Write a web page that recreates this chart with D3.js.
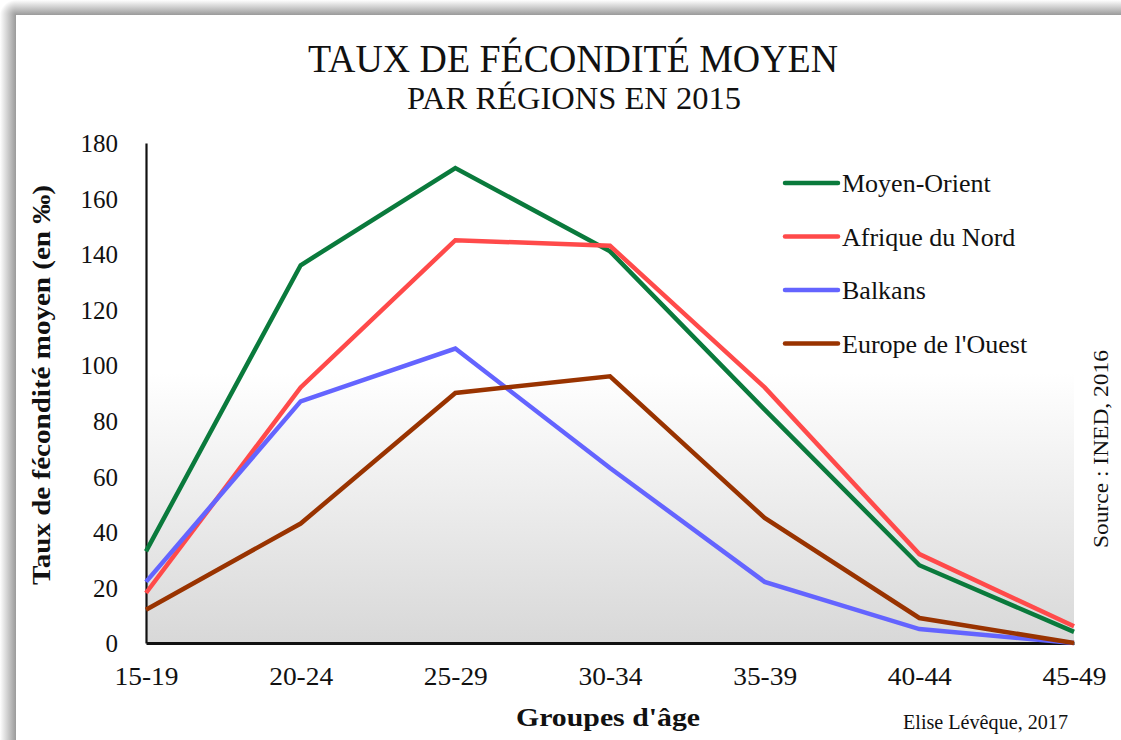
<!DOCTYPE html>
<html>
<head>
<meta charset="utf-8">
<script src="https://cdn.jsdelivr.net/npm/d3@7"></script>
<style>
  html, body { margin: 0; padding: 0; background: #fff; }
  svg { display: block; }
  text { font-family: "Liberation Serif", "Times New Roman", serif; fill: #111; }
</style>
</head>
<body>
<svg id="chart" width="1121" height="740"></svg>
<script>
const categories = ["15-19", "20-24", "25-29", "30-34", "35-39", "40-44", "45-49"];
const seriesNames = ["Moyen-Orient", "Afrique du Nord", "Balkans", "Europe de l'Ouest"];
const moyenOrient = [33, 136, 171, 141, 84, 28, 4];
const afriqueNord = [18, 92, 145, 143, 92, 32, 6];
const balkans = [22, 87, 106, 63, 22, 5, 0];
const europeOuest = [12, 43, 90, 96, 45, 9, 0];
const seriesColors = ["#0a7a3c", "#ff4a4a", "#6464ff", "#993300"];
const yTicks = [0, 20, 40, 60, 80, 100, 120, 140, 160, 180];

const SERIF = "'Liberation Serif', 'Times New Roman', serif";

const series = [moyenOrient, afriqueNord, balkans, europeOuest].map((v, i) => ({
  name: seriesNames[i], values: v, color: seriesColors[i]
}));

const svg = d3.select("#chart");
const defs = svg.append("defs");

// card shadow gradients
const gTop = defs.append("linearGradient").attr("id", "shTop").attr("x1", 0).attr("y1", 0).attr("x2", 0).attr("y2", 1);
gTop.append("stop").attr("offset", "0%").attr("stop-color", "#ffffff");
gTop.append("stop").attr("offset", "100%").attr("stop-color", "#9a9a9a");
const gLeft = defs.append("linearGradient").attr("id", "shLeft").attr("x1", 0).attr("y1", 0).attr("x2", 1).attr("y2", 0);
gLeft.append("stop").attr("offset", "0%").attr("stop-color", "#ffffff");
gLeft.append("stop").attr("offset", "100%").attr("stop-color", "#9a9a9a");

svg.append("rect").attr("x", 16).attr("y", 0).attr("width", 1105).attr("height", 15).attr("fill", "url(#shTop)");
svg.append("rect").attr("x", 0).attr("y", 15).attr("width", 16).attr("height", 725).attr("fill", "url(#shLeft)");
const gCorner = defs.append("radialGradient").attr("id", "shCorner").attr("cx", 1).attr("cy", 1).attr("r", 1);
gCorner.append("stop").attr("offset", "0%").attr("stop-color", "#9a9a9a");
gCorner.append("stop").attr("offset", "100%").attr("stop-color", "#ffffff");
svg.append("rect").attr("x", 0).attr("y", 0).attr("width", 16).attr("height", 15).attr("fill", "url(#shCorner)");

// plot area
const plot = { left: 146, right: 1074, top: 143, bottom: 643 };
const x = d3.scalePoint().domain(categories).range([plot.left, plot.right]);
const y = d3.scaleLinear().domain([0, 180]).range([plot.bottom, plot.top]);

const pg = defs.append("linearGradient").attr("id", "plotBg").attr("x1", 0).attr("y1", 0).attr("x2", 0).attr("y2", 1);
pg.append("stop").attr("offset", "0%").attr("stop-color", "#ffffff");
pg.append("stop").attr("offset", "46%").attr("stop-color", "#ffffff");
pg.append("stop").attr("offset", "100%").attr("stop-color", "#d8d8d8");
svg.append("rect")
  .attr("x", plot.left).attr("y", plot.top)
  .attr("width", plot.right - plot.left).attr("height", plot.bottom - plot.top)
  .attr("fill", "url(#plotBg)");

// Titles
svg.append("text").attr("x", 573).attr("y", 72).attr("text-anchor", "middle").style("font-family", SERIF)
  .attr("font-size", 40).attr("textLength", 530).attr("lengthAdjust", "spacingAndGlyphs")
  .text("TAUX DE FÉCONDITÉ  MOYEN");
svg.append("text").attr("x", 574).attr("y", 109).attr("text-anchor", "middle").style("font-family", SERIF)
  .attr("font-size", 31).attr("textLength", 334).attr("lengthAdjust", "spacingAndGlyphs")
  .text("PAR RÉGIONS  EN 2015");

// Y axis
const yAxis = d3.axisLeft(y).tickValues(yTicks).tickSize(0).tickPadding(28).tickFormat(d3.format("d"));
const yg = svg.append("g").attr("transform", `translate(${plot.left},0)`).call(yAxis);
yg.select(".domain").attr("stroke", "#111").attr("stroke-width", 2.2);
yg.selectAll("text").attr("font-size", 25).style("font-family", SERIF).attr("fill", "#111").attr("dy", "0.35em");

// X axis
const xAxis = d3.axisBottom(x).tickSize(0).tickPadding(24);
const xg = svg.append("g").attr("transform", `translate(0,${plot.bottom})`).call(xAxis);
xg.select(".domain").attr("stroke", "#111").attr("stroke-width", 2.8);
xg.selectAll("text").attr("font-size", 25).style("font-family", SERIF).attr("fill", "#111")
  .attr("textLength", 64).attr("lengthAdjust", "spacingAndGlyphs");

// Lines
const line = d3.line().x((d, i) => x(categories[i])).y(d => y(d));
svg.append("g").selectAll("path").data(series).join("path")
  .attr("d", d => line(d.values))
  .attr("fill", "none")
  .attr("stroke", d => d.color)
  .attr("stroke-width", 4.5)
  .attr("stroke-linejoin", "miter");

// Legend
const legend = svg.append("g").attr("transform", "translate(785,183)");
const items = legend.selectAll("g").data(series).join("g")
  .attr("transform", (d, i) => `translate(0,${i * 53.5})`);
items.append("line").attr("x1", 0).attr("x2", 53).attr("y1", 0).attr("y2", 0)
  .attr("stroke", d => d.color).attr("stroke-width", 4.5).attr("stroke-linecap", "round");
items.append("text").attr("x", 57).attr("y", 0).attr("dy", "0.35em")
  .style("font-family", SERIF).attr("font-size", 26).attr("fill", "#111").text(d => d.name);

// Axis titles
svg.append("text").attr("transform", "translate(50,385) rotate(-90)").attr("text-anchor", "middle")
  .style("font-family", SERIF)
  .attr("font-size", 25).attr("font-weight", "bold").attr("textLength", 400).attr("lengthAdjust", "spacingAndGlyphs")
  .text("Taux de fécondité moyen (en ‰)");
svg.append("text").attr("x", 608).attr("y", 726).attr("text-anchor", "middle").style("font-family", SERIF)
  .attr("font-size", 25).attr("font-weight", "bold").attr("textLength", 184).attr("lengthAdjust", "spacingAndGlyphs")
  .text("Groupes d'âge");

// Source & credit
svg.append("text").attr("transform", "translate(1108,449) rotate(-90)").attr("text-anchor", "middle")
  .style("font-family", SERIF)
  .attr("font-size", 20).attr("textLength", 198).attr("lengthAdjust", "spacingAndGlyphs")
  .text("Source : INED, 2016");
svg.append("text").attr("x", 1068).attr("y", 729).attr("text-anchor", "end").style("font-family", SERIF)
  .attr("font-size", 20).attr("textLength", 165).attr("lengthAdjust", "spacingAndGlyphs")
  .text("Elise Lévêque, 2017");
</script>
</body>
</html>
